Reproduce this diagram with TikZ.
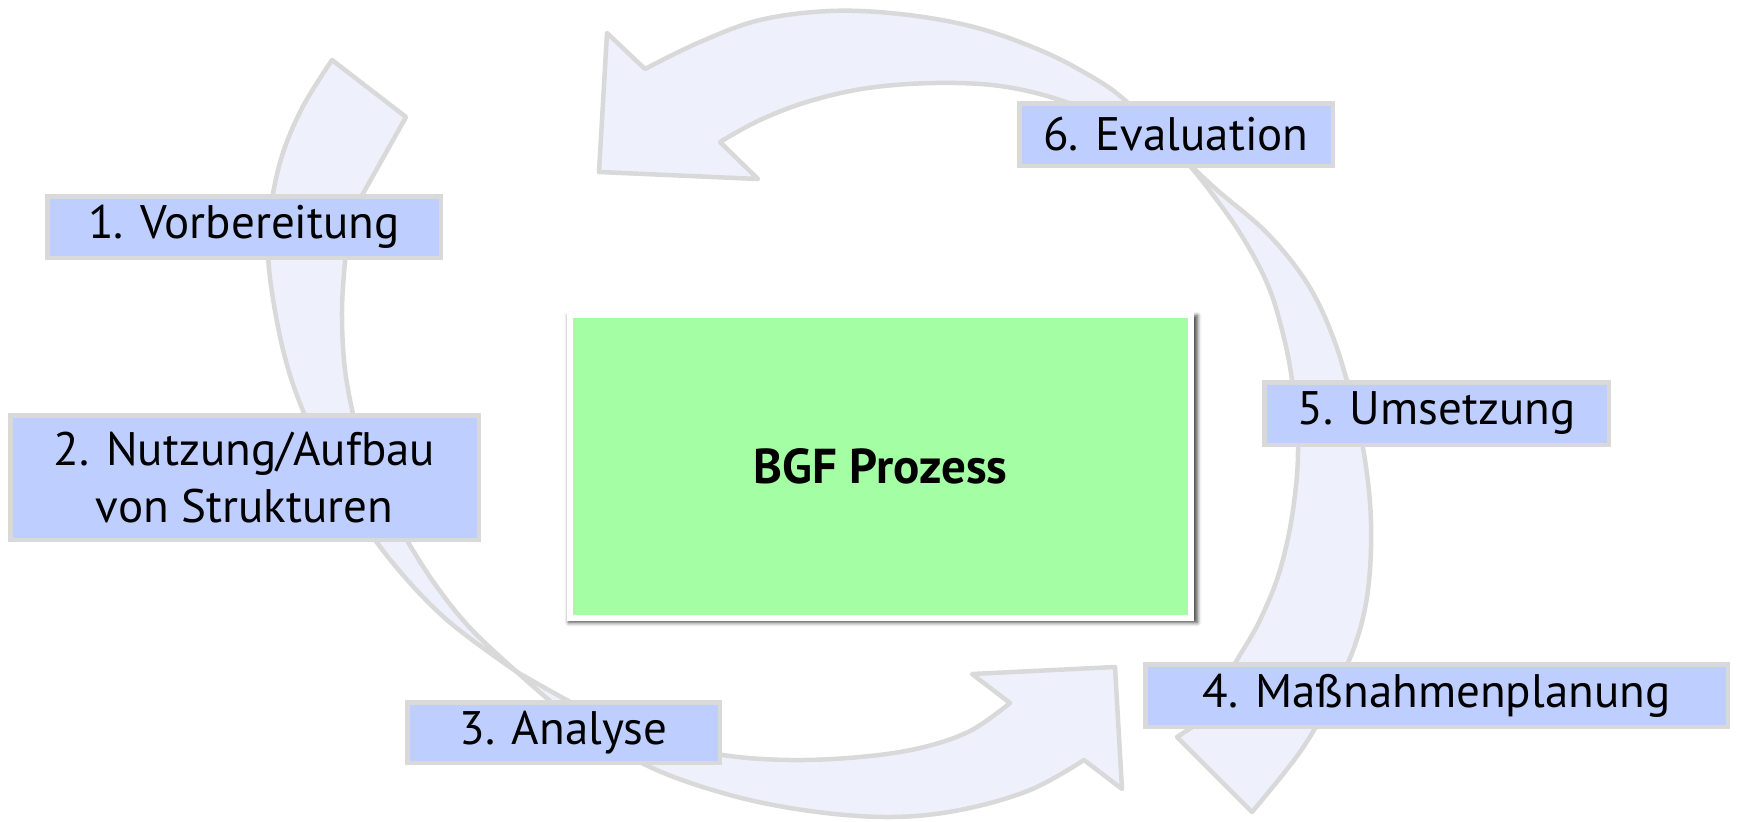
\documentclass[tikz,border=0pt]{standalone}
\usepackage{fontspec}
\setmainfont{PT Sans}
\usetikzlibrary{shadows.blur}
\definecolor{arrowfill}{RGB}{238,241,252}
\definecolor{edgegray}{RGB}{217,217,217}
\definecolor{labelfill}{RGB}{190,206,254}
\definecolor{centerfill}{RGB}{164,254,164}
\tikzset{
  cyclearrow/.style={fill=arrowfill, draw=edgegray, line width=4.5pt, line join=round},
  stagebox/.style={rectangle, fill=labelfill, draw=edgegray, line width=4.5pt, inner sep=0pt,
    align=center, font=\fontsize{47}{57}\selectfont},
  centerbox/.style={rectangle, fill=centerfill, draw=white, line width=6pt, inner sep=0pt,
    font=\fontsize{49}{58}\selectfont\bfseries,
    blur shadow={shadow xshift=2.5pt, shadow yshift=-2.5pt, shadow scale=1.012, shadow blur radius=4pt, shadow opacity=75}},
}
\begin{document}
\begin{tikzpicture}[x=1pt,y=-1pt]
\useasboundingbox (0,0) rectangle (1738,822);

% left arrow (up)
\path[cyclearrow] plot[smooth, tension=0.6] coordinates {(517,672) (447,620) (392,562) (350,502) (316,440) (290,375) (274,305) (268,240) (278,170) (300,112) (332,60)}
  -- (406,117) -- (351,215)
  -- plot[smooth, tension=0.6] coordinates {(351,215) (345,262) (342,317) (346,377) (360,440) (382,495) (408,542) (437,587) (472,630) (517,672)} -- cycle;

% bottom arrow (right)
\path[cyclearrow] plot[smooth, tension=0.6] coordinates {(517,672) (580,725) (650,767) (730,795) (810,811) (890,817) (960,810) (1030,790) (1084,760)}
  -- (1122,789) -- (1115,667) -- (972,674) -- (1010,703)
  -- plot[smooth, tension=0.6] coordinates {(1010,703) (970,731) (920,748) (860,757) (790,760) (723,755) (660,740) (605,720) (563,698) (517,672)} -- cycle;

% right arrow (down)
\path[cyclearrow] plot[smooth, tension=0.6] coordinates {(1185,160) (1217,190) (1267,233) (1307,283) (1333,337) (1352,400) (1365,460) (1371,523) (1368,590) (1355,645) (1330,700) (1300,752) (1252,812)}
  -- (1177,737) -- (1200,722)
  -- plot[smooth, tension=0.6] coordinates {(1200,722) (1237,660) (1260,620) (1280,570) (1293,510) (1298,447) (1292,380) (1282,330) (1267,283) (1240,233) (1207,187) (1185,160)} -- cycle;

% top arrow (left)
\path[cyclearrow] plot[smooth, tension=0.6] coordinates {(1185,165) (1127,102) (1080,70) (1030,46) (970,26) (900,14) (830,11) (760,20) (700,42) (645,69)}
  -- (607,33) -- (599,172) -- (758,179) -- (720,142)
  -- plot[smooth, tension=0.6] coordinates {(720,142) (760,120) (810,101) (868,88) (935,83) (1000,86) (1060,100) (1120,125) (1185,165)} -- cycle;

% stage labels
\node[stagebox, minimum width=393.5pt, minimum height=61.5pt] (s1) at (244,227) {1. Vorbereitung};
\node[stagebox, minimum width=468.5pt, minimum height=124.5pt] (s2) at (244.5,477.5) {2. Nutzung/Aufbau\\von Strukturen};
\node[stagebox, minimum width=312.5pt, minimum height=60.5pt] (s3) at (563.5,732.5) {3. Analyse};
\node[stagebox, minimum width=582.5pt, minimum height=62.5pt] (s4) at (1436.5,695.5) {4. Maßnahmenplanung};
\node[stagebox, minimum width=344.5pt, minimum height=62.5pt] (s5) at (1436.5,413.5) {5. Umsetzung};
\node[stagebox, minimum width=313.5pt, minimum height=62.5pt] (s6) at (1176,134.5) {6. Evaluation};

% center
\node[centerbox, minimum width=621pt, minimum height=303pt] (c) at (880.5,466.5) {BGF Prozess};
\end{tikzpicture}
\end{document}
